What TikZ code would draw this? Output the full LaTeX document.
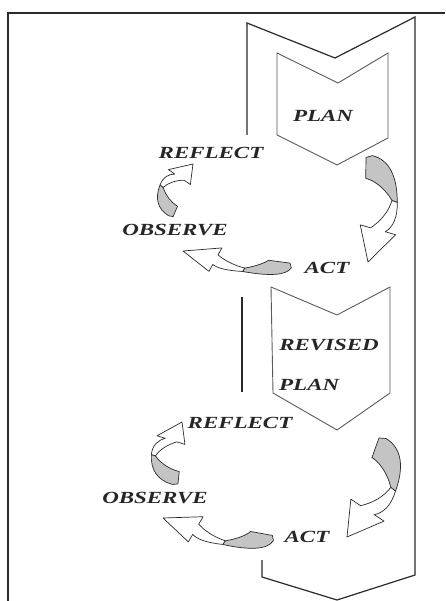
\documentclass[tikz,border=0pt]{standalone}
\usepackage{fontspec}
\setmainfont{Liberation Serif}
\usepackage{graphicx}

\definecolor{backgray}{HTML}{C4C4C4}
\definecolor{inkline}{HTML}{2A2A2A}
\definecolor{chevline}{HTML}{5A5A5A}

% Stretched bold-italic caption text
\newcommand\wide[1]{\scalebox{1.35}[1]{#1}}

\tikzset{
  frameline/.style={draw=inkline, line width=1.3pt},
  outerchev/.style={draw=inkline, line width=1.2pt, line join=miter},
  innerchev/.style={draw=chevline, line width=0.9pt, line join=miter},
  arrowline/.style={draw=inkline, line width=0.7pt, line join=round},
  lbl/.style={font=\fontsize{17}{17}\selectfont\bfseries\itshape,
              text=black!85, inner sep=0pt},
}

% Twisted block arrow from coordinate #1 (tail) to coordinate #2 (tip).
% #3 scales the outward bulge, #4 the band thickness (1 = standard).
% Local frame: chord from (0,0) to (100,0), bulge towards negative y.
\makeatletter
\newcommand\bentarrow[4]{%
  \pgfpointdiff{\pgfpointanchor{#1}{center}}{\pgfpointanchor{#2}{center}}%
  \edef\bendx{\strip@pt\pgf@x}%
  \edef\bendy{\strip@pt\pgf@y}%
  \pgfmathsetmacro\bendang{atan2(\bendy,\bendx)}%
  \pgfmathsetmacro\bendlen{veclen(\bendx,\bendy)/100}%
  \def\bk{#3}\def\bt{#4}%
  \begin{scope}[shift={(#1)}, rotate=\bendang, scale=\bendlen]
    % back face (shaded) from the tail to the twist
    \filldraw[arrowline, fill=backgray]
      (-12,{\bt*(-3)}) -- (-10,{\bt*3}) -- (12,{\bt*3})
      .. controls (14,{\bk*(-16)+\bt*8}) and (22,{\bk*(-26)+\bt*6})
      .. (35,{\bk*(-31)+\bt*3})
      -- (37,{\bk*(-31)+\bt*(-2)})
      .. controls (10,{\bk*(-26)+\bt*(-6)}) and (-8,{\bk*(-14)+\bt*(-8)})
      .. (-12,{\bt*(-3)}) -- cycle;
    % front face from the twist to the head
    \filldraw[arrowline, fill=white]
      (37,{\bk*(-31)+\bt*(-2)})
      .. controls (53,{\bk*(-28)+\bt*(-5)}) and (63,{\bk*(-19)+\bt*(-8)})
      .. (68,{\bk*(-10)+\bt*(-8)})
      -- (71,{\bk*(-10)+\bt*(-18)})
      -- (100,0)
      -- (61,{\bk*(-10)+\bt*16})
      -- (64,{\bk*(-10)+\bt*6})
      .. controls (57,{\bk*(-19)+\bt*4}) and (47,{\bk*(-27)+\bt*3})
      .. (35,{\bk*(-31)+\bt*3}) -- cycle;
  \end{scope}}
\makeatother

\begin{document}
\begin{tikzpicture}[x=1pt, y=-1pt]
\useasboundingbox (0,0) rectangle (445,601);
\fill[white] (0,0) rectangle (445,601);

% page frame
\draw[frameline] (8,601) -- (8,13) -- (445,13);

% large enclosing chevron and the short side bar
\draw[outerchev] (247,135) -- (247,23) -- (335,58) -- (415,17)
  -- (415,575) -- (337,600) -- (262,577) -- (262,560);
\draw[outerchev] (242,297) -- (242,392);

% plan chevrons
\draw[innerchev] (277,53) -- (338,83) -- (388,53) -- (388,138)
  -- (337,165) -- (277,135) -- cycle;
\draw[innerchev] (271,287) -- (337,315) -- (390,287) -- (390,393)
  -- (337,430) -- (273,393) -- cycle;

% labels, first cycle
\node[lbl] (plan1)    at (323,116) {\wide{PLAN}};
\node[lbl] (reflect1) at (211,153) {\wide{REFLECT}};
\node[lbl] (observe1) at (175,230) {\wide{OBSERVE}};
\node[lbl] (act1)     at (327,268) {\wide{ACT}};

% labels, second cycle
\node[lbl] (revised)  at (329,345) {\wide{REVISED}};
\node[lbl, anchor=west] (plan2) at (279,385) {\wide{PLAN}};
\node[lbl] (reflect2) at (240,423) {\wide{REFLECT}};
\node[lbl] (observe2) at (155,498) {\wide{OBSERVE}};
\node[lbl] (act2)     at (307,537) {\wide{ACT}};

% arrow ends, first cycle
\coordinate (a1s) at (369,167);  \coordinate (a1e) at (368,262);
\coordinate (b1s) at (280,264);  \coordinate (b1e) at (183,251);
\coordinate (c1s) at (173,211);  \coordinate (c1e) at (193,164);
% arrow ends, second cycle
\coordinate (a2s) at (379,448);  \coordinate (a2e) at (347,537);
\coordinate (b2s) at (262,536);  \coordinate (b2e) at (163,518);
\coordinate (c2s) at (176,478);  \coordinate (c2e) at (182,422);

\bentarrow{a1s}{a1e}{0.9}{1.1}
\bentarrow{b1s}{b1e}{0.36}{0.75}
\bentarrow{c1s}{c1e}{1.3}{1.5}
\bentarrow{a2s}{a2e}{0.95}{1.2}
\bentarrow{b2s}{b2e}{0.44}{0.8}
\bentarrow{c2s}{c2e}{1.45}{1.5}
\end{tikzpicture}
\end{document}
